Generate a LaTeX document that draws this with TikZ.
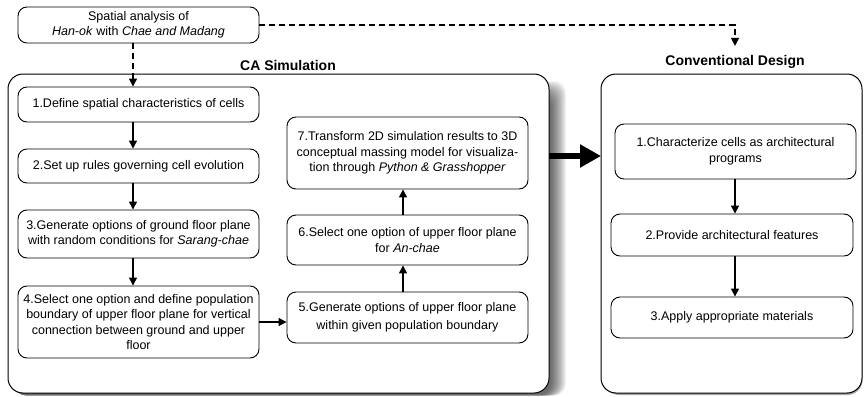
\documentclass[tikz,border=0pt]{standalone}
\usepackage{fontspec}
\setmainfont{Liberation Sans}
\usetikzlibrary{arrows.meta,positioning}

\begin{document}
\begin{tikzpicture}[x=1pt,y=-1pt,
  box/.style={draw, rounded corners=9pt, line width=0.9pt, fill=white,
    minimum width=241pt, align=center, inner sep=2pt,
    font=\fontsize{12.5}{15.5}\selectfont},
  frame/.style={draw, rounded corners=15pt, line width=1pt, fill=white},
  heading/.style={font=\fontsize{14}{16}\selectfont\bfseries},
  flow/.style={-{Triangle[width=8pt,length=8pt]}, line width=1.3pt},
  dflow/.style={flow, dash pattern=on 6pt off 4pt},
  bigflow/.style={-{Triangle[width=22pt,length=21pt]}, line width=6pt}]
\useasboundingbox (0,0) rectangle (864,396);

% soft drop shadow of the simulation frame
\foreach \k in {1,...,16}
  \fill[black, opacity=0.05, rounded corners=12pt]
    (14,97-\k) rectangle (550+\k,395.5);
% thin shadow under the design frame
\fill[black, opacity=0.35, rounded corners=15pt] (604,80) rectangle (862.5,395);

% frames
\draw[frame] (8,74) rectangle (549,393);
\draw[frame] (601,74) rectangle (862,393);
\node[heading] (tCA) at (288,65) {CA Simulation};
\node[heading] (tCD) at (735,62) {Conventional Design};

% column guides for the connectors
\coordinate (colA) at (133,0);
\coordinate (colB) at (403,0);
\coordinate (colC) at (735,0);

% input
\node[box, minimum height=36pt] (src) at (138.5,25)
  {Spatial analysis of\\ \textit{Han-ok} with \textit{Chae and Madang}};

% CA simulation steps
\node[box, minimum height=35pt] (s1) at (138.5,104.5)
  {1.Define spatial characteristics of cells};
\node[box, minimum height=34pt] (s2) at (138.5,166)
  {2.Set up rules governing cell evolution};
\node[box, minimum height=48pt] (s3) at (138.5,234)
  {3.Generate options of ground floor plane\\ with random conditions for \textit{Sarang-chae}};
\node[box, minimum height=72pt] (s4) at (138.5,322)
  {4.Select one option and define population\\ boundary of upper floor plane for vertical\\
   connection between ground and upper\\ floor};
\node[box, minimum height=51pt, font=\fontsize{12.5}{18}\selectfont] (s5) at (407.5,317.5)
  {5.Generate options of upper floor plane\\ within given population boundary};
\node[box, minimum height=50pt] (s6) at (407.5,240)
  {6.Select one option of upper floor plane\\ for \textit{An-chae}};
\node[box, minimum height=72pt] (s7) at (407.5,153)
  {7.Transform 2D simulation results to 3D\\ conceptual massing model for visualiza-\\
   tion through \textit{Python \& Grasshopper}};

% conventional design steps
\node[box, minimum height=55pt] (c1) at (735.5,151.5)
  {1.Characterize cells as architectural\\ programs};
\node[box, minimum width=242pt, minimum height=42pt] (c2) at (732,235)
  {2.Provide architectural features};
\node[box, minimum width=242pt, minimum height=41pt] (c3) at (732,317.5)
  {3.Apply appropriate materials};

% connectors
\draw[dflow] (src.south -| colA) -- (s1.north -| colA);
\draw[dflow] (src.east) -- (src.east -| colC) -- ([yshift=6pt]tCD.north -| colC);
\draw[flow] (s1.south -| colA) -- (s2.north -| colA);
\draw[flow] (s2.south -| colA) -- (s3.north -| colA);
\draw[flow] (s3.south -| colA) -- (s4.north -| colA);
\draw[flow] (s4.east) -- (s4.east -| s5.west);
\draw[flow] (s5.north -| colB) -- (s6.south -| colB);
\draw[flow] (s6.north -| colB) -- (s7.south -| colB);
\draw[flow] (c1.south -| colC) -- (c2.north -| colC);
\draw[flow] (c2.south -| colC) -- (c3.north -| colC);
\coordinate (caR) at (549,156);
\coordinate (cdL) at (601,156);
\draw[bigflow] (caR) -- (cdL);
\end{tikzpicture}
\end{document}
